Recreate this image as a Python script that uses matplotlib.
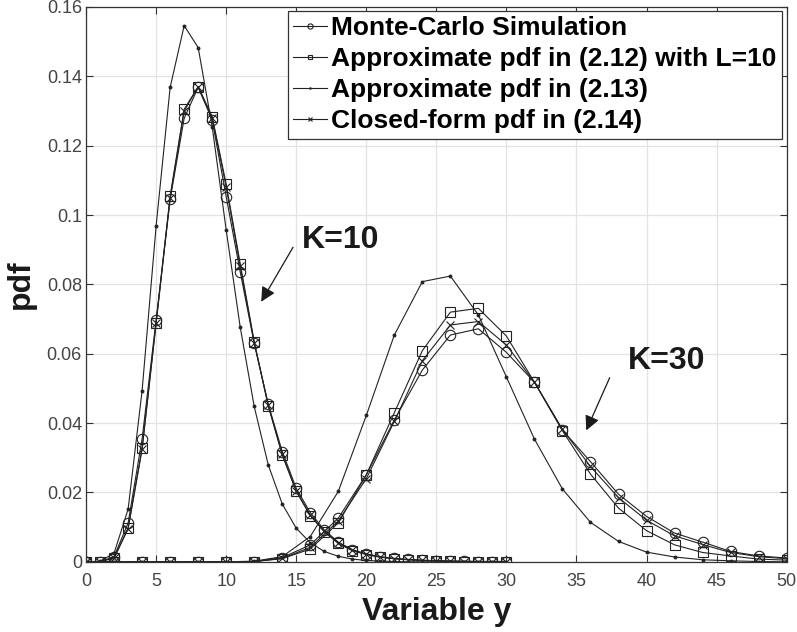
import numpy as np
import matplotlib
matplotlib.use("Agg")
from matplotlib import pyplot as plt

plt.rcParams['font.family'] = ['Liberation Sans', 'DejaVu Sans']

# K=10 curves, sampled at y = 0..30
x10 = np.arange(0, 31)
mc10 = [0, 0.0001, 0.0015, 0.0112, 0.0355, 0.0698, 0.1045, 0.1279, 0.1368, 0.1274,
        0.1053, 0.0836, 0.0630, 0.0455, 0.0318, 0.0212, 0.0142, 0.0092, 0.0057, 0.0035,
        0.0023, 0.0015, 0.0010, 0.0007, 0.0005, 0.0003, 0.0002, 0.0002, 0.0001, 0.0001, 0.0001]
ap12_10 = [0, 0.0001, 0.0010, 0.0098, 0.0328, 0.0690, 0.1055, 0.1305, 0.1370, 0.1284,
           0.1089, 0.0860, 0.0635, 0.0450, 0.0308, 0.0203, 0.0133, 0.0087, 0.0053, 0.0032,
           0.0021, 0.0013, 0.0009, 0.0006, 0.0004, 0.0003, 0.0002, 0.0001, 0.0001, 0.0001, 0.0001]
ap13_10 = [0, 0.0002, 0.0025, 0.0152, 0.0494, 0.0969, 0.1368, 0.1546, 0.1483, 0.1255,
           0.0957, 0.0677, 0.0448, 0.0280, 0.0167, 0.0097, 0.0055, 0.0030, 0.0016, 0.0008,
           0.0004, 0.0002, 0.0001, 0, 0, 0, 0, 0, 0, 0, 0]
cf10 = [0, 0.0001, 0.0012, 0.0095, 0.0325, 0.0688, 0.1050, 0.1300, 0.1370, 0.1280,
        0.1080, 0.0852, 0.0632, 0.0452, 0.0310, 0.0205, 0.0135, 0.0088, 0.0055, 0.0034,
        0.0022, 0.0014, 0.0009, 0.0006, 0.0004, 0.0003, 0.0002, 0.0001, 0.0001, 0.0001, 0.0001]

# K=30 curves, sampled at y = 0,2,..,50
x30 = np.arange(0, 51, 2)
mc30 = [0, 0, 0, 0, 0, 0, 0.0001, 0.0012, 0.0049, 0.0126, 0.0251, 0.0409, 0.0553,
        0.0654, 0.0672, 0.0604, 0.0518, 0.0380, 0.0289, 0.0195, 0.0131, 0.0083,
        0.0057, 0.0030, 0.0017, 0.0011]
ap12_30 = [0, 0, 0, 0, 0, 0, 0.0001, 0.0009, 0.0037, 0.0112, 0.0251, 0.0430, 0.0609,
           0.0720, 0.0731, 0.0651, 0.0518, 0.0378, 0.0253, 0.0155, 0.0090, 0.0049,
           0.0027, 0.0017, 0.0008, 0.0005]
ap13_30 = [0, 0, 0, 0, 0, 0, 0.0002, 0.0015, 0.0073, 0.0203, 0.0422, 0.0654, 0.0808,
           0.0824, 0.0712, 0.0533, 0.0354, 0.0210, 0.0114, 0.0059, 0.0028, 0.0014,
           0.0006, 0.0003, 0.0001, 0]
cf30 = [0, 0, 0, 0, 0, 0, 0.0001, 0.0010, 0.0042, 0.0118, 0.0240, 0.0405, 0.0580,
        0.0683, 0.0693, 0.0625, 0.0518, 0.0382, 0.0275, 0.0185, 0.0120, 0.0075,
        0.0050, 0.0027, 0.0015, 0.0009]

labels = ['Monte-Carlo Simulation', 'Approximate pdf in (2.12) with L=10',
          'Approximate pdf in (2.13)', 'Closed-form pdf in (2.14)']

fig = plt.figure(figsize=(7.97, 6.32), dpi=100)
ax = fig.add_axes([0.108, 0.111, 0.879, 0.878])

lw = 0.8
styles = [dict(marker='o', ms=7.5, mfc='none'),
          dict(marker='s', ms=6.5, mfc='none'),
          dict(marker='.', ms=4),
          dict(marker='x', ms=5.5)]
series10 = [mc10, ap12_10, ap13_10, cf10]
series30 = [mc30, ap12_30, ap13_30, cf30]
handles = []
for st, s10, s30, lab in zip(styles, series10, series30, labels):
    h, = ax.plot(x10, s10, color='#222222', lw=lw, mew=0.8, label=lab, **st)
    ax.plot(x30, s30, color='#222222', lw=lw, mew=0.8, **st)
    handles.append(h)

ax.set_xlim(0, 50)
ax.set_ylim(0, 0.16)
ax.set_xticks(np.arange(0, 51, 5))
ax.set_yticks(np.arange(0, 0.161, 0.02))
ax.set_yticklabels(['0', '0.02', '0.04', '0.06', '0.08', '0.1', '0.12', '0.14', '0.16'])
ax.tick_params(direction='in', top=True, right=True, labelsize=13, colors='#333333',
               labelcolor='#444444', length=5, width=0.8)
ax.tick_params(axis='y', pad=3)
ax.tick_params(axis='x', pad=8)
ax.grid(True, color='#e3e3e3', lw=0.9)
ax.set_axisbelow(True)
for sp in ax.spines.values():
    sp.set_color('#333333')
    sp.set_linewidth(0.9)

ax.set_xlabel('Variable y', fontsize=23, fontweight='bold', color='#1a1a1a', labelpad=5)
ax.set_ylabel('pdf', fontsize=23, fontweight='bold', color='#1a1a1a', labelpad=8)

# K labels and arrows
ax.text(18.2, 0.0928, 'K=10', fontsize=23, fontweight='bold', color='#1a1a1a',
        ha='center', va='center')
ax.annotate('', xy=(12.5, 0.075), xytext=(14.77, 0.0907),
            arrowprops=dict(arrowstyle='-|>', color='#1a1a1a', lw=0.9,
                            mutation_scale=22, shrinkA=0, shrinkB=0))
ax.text(41.4, 0.058, 'K=30', fontsize=23, fontweight='bold', color='#1a1a1a',
        ha='center', va='center')
ax.annotate('', xy=(35.7, 0.0379), xytext=(37.37, 0.0531),
            arrowprops=dict(arrowstyle='-|>', color='#1a1a1a', lw=0.9,
                            mutation_scale=22, shrinkA=0, shrinkB=0))

leg = ax.legend(handles=handles, loc='upper right', bbox_to_anchor=(0.993, 0.993),
                borderaxespad=0, fancybox=False, framealpha=1, edgecolor='#333333',
                prop=dict(size=19, weight='bold'), handlelength=1.3, handletextpad=0.15,
                markerscale=0.5, labelspacing=0.27, borderpad=0.2)
leg.get_frame().set_linewidth(0.9)

fig.savefig('out.png', dpi=100)
